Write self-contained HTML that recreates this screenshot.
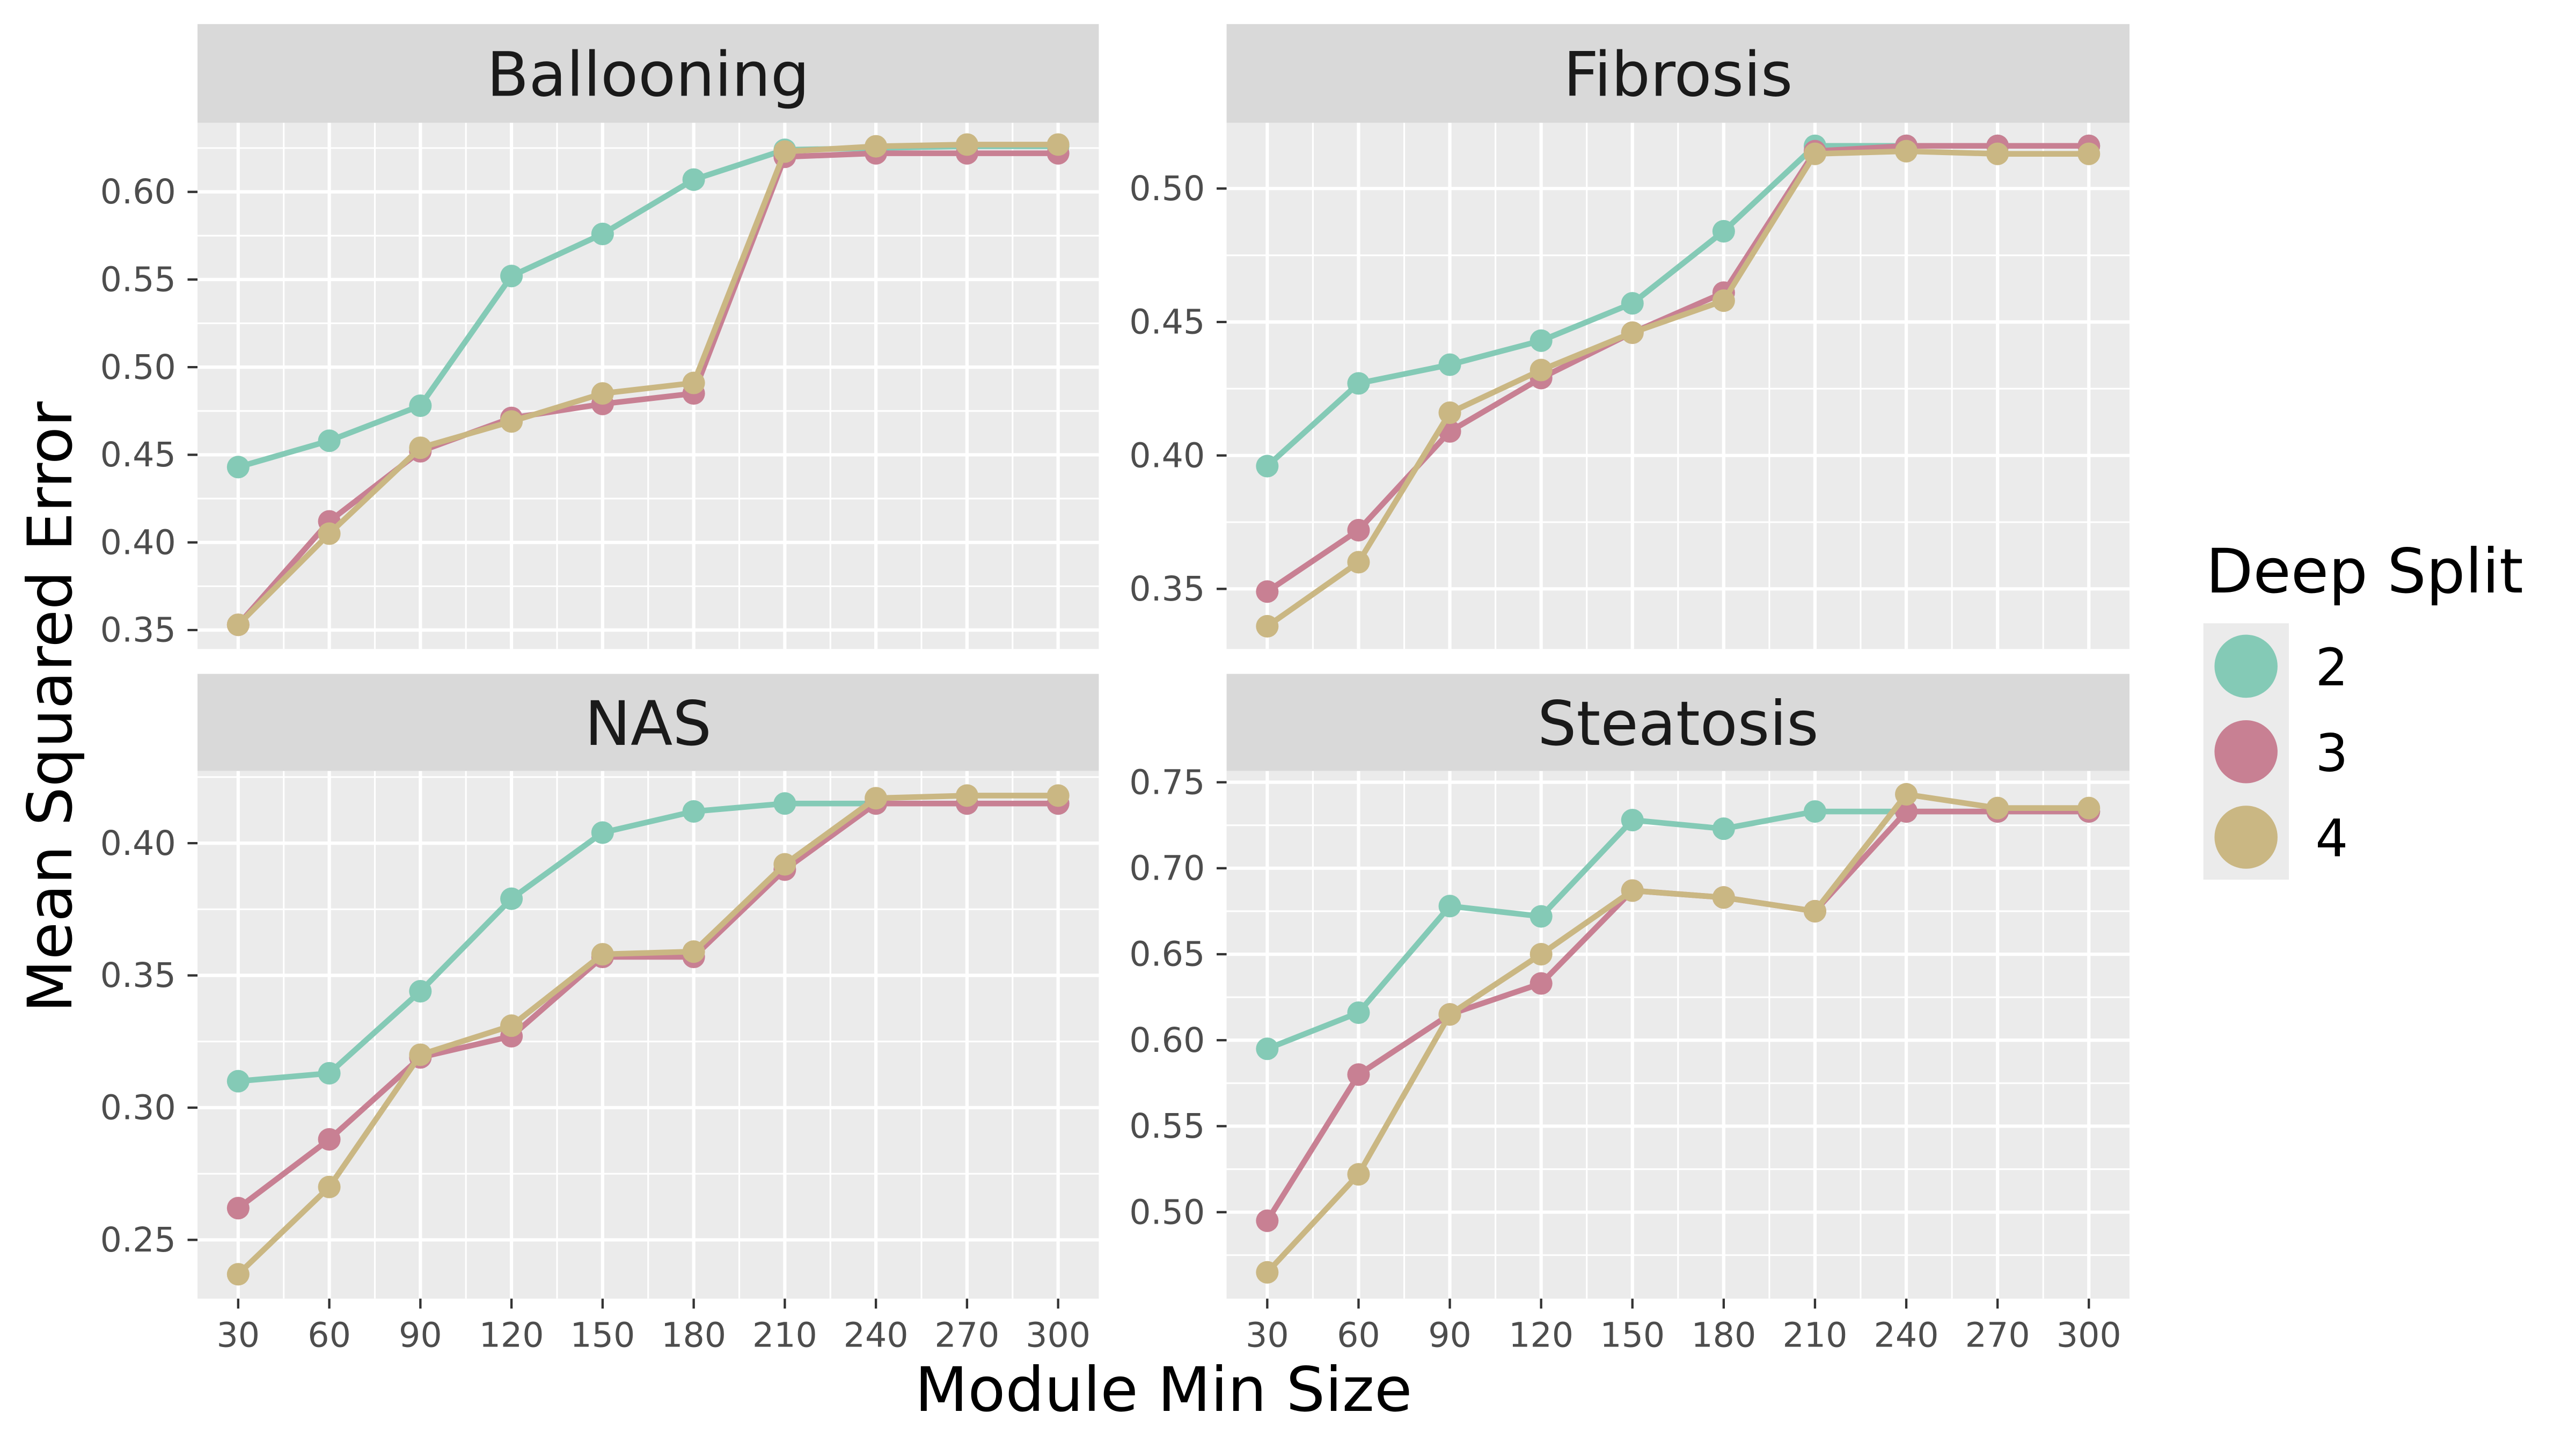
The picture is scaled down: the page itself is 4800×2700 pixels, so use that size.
<!DOCTYPE html>
<html><head><meta charset="utf-8"><style>html,body{margin:0;padding:0;background:#fff}svg{display:block}text{font-family:"DejaVu Sans","Liberation Sans",sans-serif}</style></head>
<body>
<svg id="chart" width="4800" height="2700" viewBox="0 0 1552 873" xmlns="http://www.w3.org/2000/svg">
<rect width="1552" height="873" fill="#fff"/>
</svg>
<script>
const xCats=[30,60,90,120,150,180,210,240,270,300];
const panelNames=["Ballooning","Fibrosis","NAS","Steatosis"];
const seriesNames=["2","3","4"];
const ballooning2=[.443,.458,.478,.552,.576,.607,.624,.625,.626,.626];
const ballooning3=[.353,.412,.452,.471,.479,.485,.620,.622,.622,.622];
const ballooning4=[.353,.405,.454,.469,.485,.491,.623,.626,.627,.627];
const fibrosis2=[.396,.427,.434,.443,.457,.484,.516,.516,.516,.516];
const fibrosis3=[.349,.372,.409,.429,.446,.461,.514,.516,.516,.516];
const fibrosis4=[.336,.360,.416,.432,.446,.458,.513,.514,.513,.513];
const nas2=[.310,.313,.344,.379,.404,.412,.415,.415,.415,.415];
const nas3=[.262,.288,.319,.327,.357,.357,.390,.415,.415,.415];
const nas4=[.237,.270,.320,.331,.358,.359,.392,.417,.418,.418];
const steatosis2=[.595,.616,.678,.672,.728,.723,.733,.733,.733,.733];
const steatosis3=[.495,.580,.615,.633,.687,.683,.675,.733,.733,.733];
const steatosis4=[.465,.522,.615,.650,.687,.683,.675,.743,.735,.735];
const ballooningTicks=["0.35","0.40","0.45","0.50","0.55","0.60"];
const fibrosisTicks=["0.35","0.40","0.45","0.50"];
const nasTicks=["0.25","0.30","0.35","0.40"];
const steatosisTicks=["0.50","0.55","0.60","0.65","0.70","0.75"];

const colors=["#84cab6","#c88093","#cab783"];
const NS="http://www.w3.org/2000/svg";
const svg=document.getElementById("chart");
function mk(tag,attrs,parent){const e=document.createElementNS(NS,tag);for(const k in attrs)e.setAttribute(k,attrs[k]);(parent||svg).appendChild(e);return e;}

const panels=[
 {name:panelNames[0],x0:119,x1:662,sy0:14.5,y0:74,y1:391,v0:.60,p0:115.6,v1:.35,p1:379.6,data:[ballooning2,ballooning3,ballooning4],ticks:ballooningTicks,xt:false},
 {name:panelNames[1],x0:739,x1:1283,sy0:14.5,y0:74,y1:391,v0:.50,p0:113.6,v1:.35,p1:354.8,data:[fibrosis2,fibrosis3,fibrosis4],ticks:fibrosisTicks,xt:false},
 {name:panelNames[2],x0:119,x1:662,sy0:406,y0:464.5,y1:782.4,v0:.40,p0:508,v1:.25,p1:747,data:[nas2,nas3,nas4],ticks:nasTicks,xt:true},
 {name:panelNames[3],x0:739,x1:1283,sy0:406,y0:464.5,y1:782.4,v0:.75,p0:471.3,v1:.50,p1:730.3,data:[steatosis2,steatosis3,steatosis4],ticks:steatosisTicks,xt:true}
];
panels.forEach(p=>{
 const g=mk("g",{});
 
 
 const xs=v=>p.x0+24.5+(v-30)/270*(p.x1-p.x0-49);
 const ys=v=>p.p0+(v-p.v0)/(p.v1-p.v0)*(p.p1-p.p0);
 const strip=mk("rect",{x:p.x0,y:p.sy0,width:p.x1-p.x0,height:p.y0-p.sy0,fill:"#d9d9d9"},g);
 
 
 const st=mk("text",{x:(p.x0+p.x1)/2,y:(p.sy0+p.y0)/2+13.5,"text-anchor":"middle","font-size":37,fill:"#1a1a1a"},g);
 st.textContent=p.name;
 
 
 mk("rect",{x:p.x0,y:p.y0,width:p.x1-p.x0,height:p.y1-p.y0,fill:"#ebebeb"},g);
 const vals=p.ticks.map(Number);const step=vals[1]-vals[0];
 for(let v=vals[0]-step*1.5;v<=vals[vals.length-1]+step*1.5;v+=step){const y=ys(v);if(y>p.y0&&y<p.y1)mk("line",{x1:p.x0,x2:p.x1,y1:y,y2:y,stroke:"#fff","stroke-width":1},g);}
 for(let i=0;i<xCats.length-1;i++){const x=(xs(xCats[i])+xs(xCats[i+1]))/2;mk("line",{x1:x,x2:x,y1:p.y0,y2:p.y1,stroke:"#fff","stroke-width":1},g);}
 p.ticks.forEach((t,i)=>{const y=ys(vals[i]);mk("line",{x1:p.x0,x2:p.x1,y1:y,y2:y,stroke:"#fff","stroke-width":2},g);
  mk("line",{x1:p.x0-6,x2:p.x0,y1:y,y2:y,stroke:"#333","stroke-width":1.4},g);
  const tl=mk("text",{x:p.x0-13,y:y+7,"text-anchor":"end","font-size":20.5,fill:"#4d4d4d"},g);tl.textContent=t;
  
  });
 xCats.forEach(c=>{const x=xs(c);mk("line",{x1:x,x2:x,y1:p.y0,y2:p.y1,stroke:"#fff","stroke-width":2},g);
  if(p.xt){mk("line",{x1:x,x2:x,y1:p.y1,y2:p.y1+6,stroke:"#333","stroke-width":1.4},g);
  const tl=mk("text",{x:x,y:p.y1+29,"text-anchor":"middle","font-size":20.5,fill:"#4d4d4d"},g);tl.textContent=c;
  
  }});
 p.data.forEach((d,si)=>{
  const pts=d.map((v,i)=>xs(xCats[i])+","+ys(v)).join(" ");
  const pl=mk("polyline",{points:pts,fill:"none",stroke:colors[si],"stroke-width":3.4},g);
  
  
  d.forEach((v,i)=>{const c=mk("circle",{cx:xs(xCats[i]),cy:ys(v),r:6.8,fill:colors[si]},g);
   
   });
 });
});
const xt=mk("text",{x:701,y:850,"text-anchor":"middle","font-size":37,fill:"#000"});xt.textContent="Module Min Size";


const yt=mk("text",{x:0,y:0,"text-anchor":"middle","font-size":37,fill:"#000",transform:"translate(43,426) rotate(-90)"});yt.textContent="Mean Squared Error";


const lt=mk("text",{x:1329,y:357,"font-size":37,fill:"#000"});lt.textContent="Deep Split";


mk("rect",{x:1327.5,y:375.5,width:51.5,height:154.5,fill:"#ebebeb"});
seriesNames.forEach((s,i)=>{const y=401.4+i*51.5;
 const g=mk("g",{});
 
 
 mk("circle",{cx:1353.2,cy:y,r:19,fill:colors[i]},g);
 const t=mk("text",{x:1395,y:y+11.5,"font-size":31,fill:"#000"},g);t.textContent=s;});
</script>
</body></html>
